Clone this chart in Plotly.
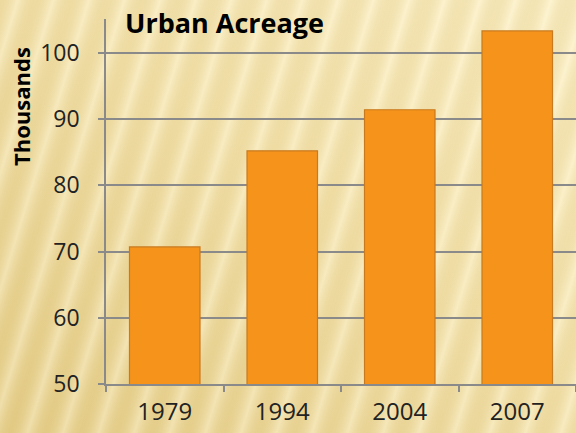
import base64
import plotly.graph_objects as go

years = ["1979", "1994", "2004", "2007"]
acreage = [70.7, 85.2, 91.4, 103.3]
y_ticks = [50, 60, 70, 80, 90, 100]

W, H = 576, 433
L, R, T, B = 106, 0, 19, 49
pw, ph = W - L - R, H - T - B

svg = f'''<svg xmlns="http://www.w3.org/2000/svg" width="{W}" height="{H}" viewBox="0 0 {W} {H}">
<defs>
<linearGradient id="bg" x1="0" y1="1" x2="1" y2="0">
<stop offset="0" stop-color="#E6CF8C"/>
<stop offset="0.55" stop-color="#F5E5B2"/>
<stop offset="1" stop-color="#FCF1CA"/>
</linearGradient>
<linearGradient id="st" x1="0" y1="0" x2="1" y2="0">
<stop offset="0" stop-color="#C9A84E" stop-opacity="0.16"/>
<stop offset="0.5" stop-color="#FFF8DC" stop-opacity="0.38"/>
<stop offset="1" stop-color="#C9A84E" stop-opacity="0.16"/>
</linearGradient>
<pattern id="p" width="34" height="40" patternUnits="userSpaceOnUse" patternTransform="rotate(17)">
<rect x="0" y="0" width="34" height="40" fill="url(#st)"/>
</pattern>
</defs>
<rect width="{W}" height="{H}" fill="url(#bg)"/>
<rect width="{W}" height="{H}" fill="url(#p)"/>
</svg>'''
src = "data:image/svg+xml;base64," + base64.b64encode(svg.encode()).decode()

fig = go.Figure()
fig.add_trace(go.Bar(
    x=years, y=acreage, width=0.6,
    marker=dict(color="#F5931A", line=dict(color="#C97A1E", width=1.2)),
))

fig.update_layout(
    width=W, height=H,
    margin=dict(l=L, r=R, t=T, b=B, autoexpand=False),
    paper_bgcolor="rgba(0,0,0,0)", plot_bgcolor="rgba(0,0,0,0)",
    showlegend=False,
    font=dict(family="Open Sans, sans-serif", color="#1a1a1a"),
    images=[dict(source=src, xref="paper", yref="paper",
                 x=-L / pw, y=1 + T / ph, sizex=W / pw, sizey=H / ph,
                 xanchor="left", yanchor="top", sizing="stretch", layer="below")],
    annotations=[
        dict(text="<b>Urban Acreage</b>", xref="paper", yref="paper",
             x=(123 - L) / pw, y=1 + (T - 23) / ph, xanchor="left", yanchor="middle",
             showarrow=False, font=dict(size=27, color="#000000")),
        dict(text="<b>Thousands</b>", xref="paper", yref="paper", textangle=-90,
             x=(21 - L) / pw, y=(H - B - 107) / ph, xanchor="center", yanchor="middle",
             showarrow=False, font=dict(size=22, color="#000000")),
    ],
)
fig.update_xaxes(
    automargin=False,
    showline=True, linecolor="#8A8A8A", linewidth=1.5,
    ticks="outside", tickson="boundaries", ticklen=6, tickcolor="#8A8A8A", tickwidth=1.5,
    tickfont=dict(size=24, color="#222222"), showgrid=False,
    ticklabelstandoff=5,
)
fig.update_yaxes(
    automargin=False,
    range=[50, 105.1], tickvals=y_ticks,
    showline=True, linecolor="#8A8A8A", linewidth=1.5,
    showgrid=True, gridcolor="#8A8A8A", gridwidth=1.5,
    ticks="outside", ticklen=6, tickcolor="#8A8A8A", tickwidth=1.5,
    tickfont=dict(size=23, color="#222222"), ticklabelstandoff=14,
    zeroline=False,
)
fig.write_html("out.html", config={"displayModeBar": False},
               post_script="document.body.style.margin='0';document.body.style.overflow='hidden';")
